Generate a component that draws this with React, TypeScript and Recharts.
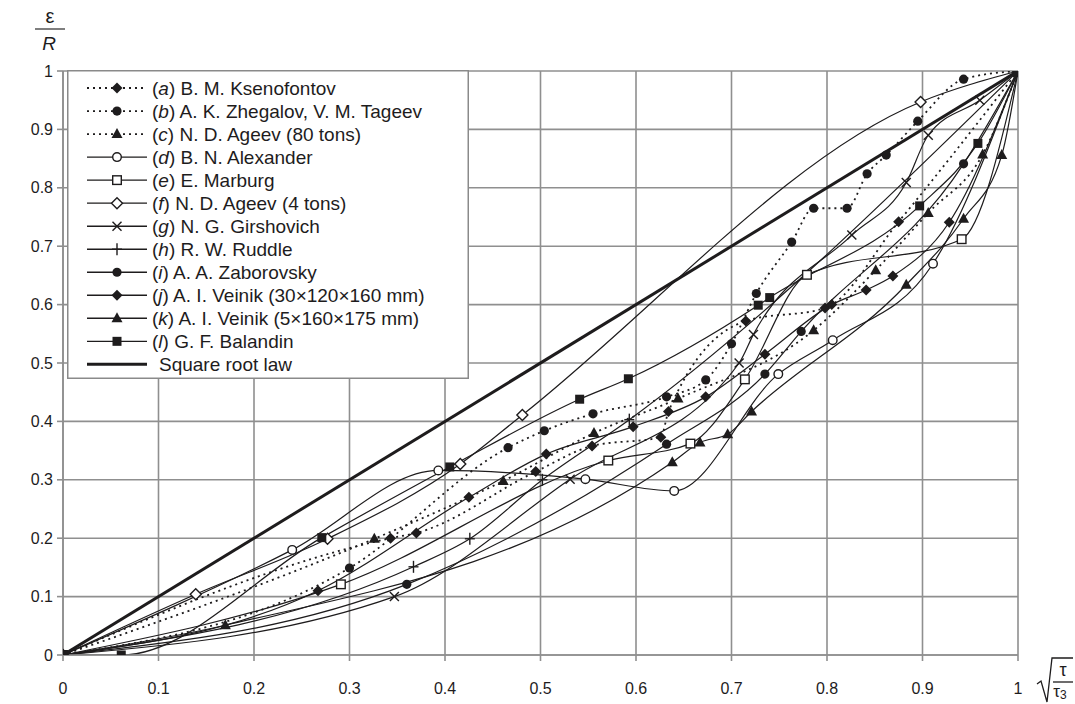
import React from "react";
import { LineChart, Line, XAxis, YAxis, CartesianGrid } from "recharts";

// ---- data (x = sqrt(tau/tau3), y = epsilon/R) ----
const xTicks = [0, 0.1, 0.2, 0.3, 0.4, 0.5, 0.6, 0.7, 0.8, 0.9, 1];
const yTicks = [0, 0.1, 0.2, 0.3, 0.4, 0.5, 0.6, 0.7, 0.8, 0.9, 1];

const ksenofontov = [[0, 0], [0.343, 0.2], [0.37, 0.209], [0.495, 0.314], [0.554, 0.358], [0.626, 0.373], [0.634, 0.417], [0.715, 0.572], [0.798, 0.594], [0.875, 0.742], [1, 1]];
const zhegalov = [[0, 0], [0.3, 0.149], [0.466, 0.355], [0.504, 0.384], [0.555, 0.413], [0.632, 0.442], [0.673, 0.471], [0.7, 0.533], [0.726, 0.619], [0.763, 0.707], [0.786, 0.765], [0.821, 0.765], [0.842, 0.824], [0.862, 0.856], [0.895, 0.914], [0.943, 0.986], [1, 1]];
const ageev80 = [[0, 0], [0.326, 0.199], [0.461, 0.298], [0.556, 0.38], [0.644, 0.439], [0.786, 0.556], [0.851, 0.659], [0.906, 0.757], [0.963, 0.857], [1, 1]];
const alexander = [[0, 0], [0.24, 0.18], [0.393, 0.316], [0.547, 0.301], [0.64, 0.281], [0.749, 0.481], [0.806, 0.539], [0.911, 0.67], [1, 1]];
const marburg = [[0, 0], [0.291, 0.121], [0.571, 0.333], [0.657, 0.362], [0.714, 0.472], [0.779, 0.651], [0.941, 0.712], [1, 1]];
const ageev4 = [[0, 0], [0.139, 0.104], [0.277, 0.199], [0.416, 0.327], [0.481, 0.411], [0.898, 0.947], [1, 1]];
const girshovich = [[0, 0], [0.347, 0.1], [0.531, 0.301], [0.708, 0.5], [0.723, 0.549], [0.826, 0.719], [0.883, 0.809], [0.906, 0.89], [0.96, 0.95], [1, 1]];
const ruddle = [[0, 0], [0.367, 0.151], [0.426, 0.199], [0.502, 0.3], [0.593, 0.403], [1, 1]];
const zaborovsky = [[0, 0], [0.36, 0.121], [0.632, 0.361], [0.735, 0.481], [0.773, 0.554], [0.943, 0.841], [1, 1]];
const veinik30 = [[0, 0], [0.267, 0.11], [0.425, 0.27], [0.506, 0.344], [0.597, 0.391], [0.673, 0.442], [0.735, 0.515], [0.805, 0.6], [0.841, 0.625], [0.869, 0.649], [0.928, 0.741], [1, 1]];
const veinik5 = [[0, 0], [0.17, 0.051], [0.638, 0.33], [0.667, 0.364], [0.696, 0.378], [0.721, 0.417], [0.883, 0.634], [0.943, 0.747], [0.983, 0.856], [1, 1]];
const balandin = [[0, 0], [0.061, 0], [0.271, 0.201], [0.405, 0.322], [0.541, 0.438], [0.592, 0.473], [0.728, 0.599], [0.74, 0.612], [0.897, 0.769], [0.958, 0.876], [1, 1]];
const squareRoot = [[0, 0], [1, 1]];

const toRows = (pts: number[][]) => pts.map(([x, y]) => ({ x, y }));

const INK = "#1e1c1d";
const FONT = "'Liberation Sans', Arial, sans-serif";

type Shape = "diamond" | "circle" | "triangle" | "square" | "openCircle" | "openSquare" | "openDiamond" | "cross" | "plus" | "none";

function Marker({ cx, cy, shape }: { cx: number; cy: number; shape: Shape }) {
  switch (shape) {
    case "diamond":
      return <polygon points={`${cx},${cy - 5.5} ${cx + 5.5},${cy} ${cx},${cy + 5.5} ${cx - 5.5},${cy}`} fill={INK} />;
    case "circle":
      return <circle cx={cx} cy={cy} r={4.6} fill={INK} />;
    case "triangle":
      return <polygon points={`${cx},${cy - 6} ${cx + 5.5},${cy + 4} ${cx - 5.5},${cy + 4}`} fill={INK} />;
    case "square":
      return <rect x={cx - 4.5} y={cy - 4.5} width={9} height={9} fill={INK} />;
    case "openCircle":
      return <circle cx={cx} cy={cy} r={4.3} fill="#fff" stroke={INK} strokeWidth={1.4} />;
    case "openSquare":
      return <rect x={cx - 4.3} y={cy - 4.3} width={8.6} height={8.6} fill="#fff" stroke={INK} strokeWidth={1.4} />;
    case "openDiamond":
      return <polygon points={`${cx},${cy - 5.5} ${cx + 5.5},${cy} ${cx},${cy + 5.5} ${cx - 5.5},${cy}`} fill="#fff" stroke={INK} strokeWidth={1.4} />;
    case "cross":
      return (
        <g stroke={INK} strokeWidth={1.4}>
          <line x1={cx - 4.5} y1={cy - 4.5} x2={cx + 4.5} y2={cy + 4.5} />
          <line x1={cx - 4.5} y1={cy + 4.5} x2={cx + 4.5} y2={cy - 4.5} />
        </g>
      );
    case "plus":
      return (
        <g stroke={INK} strokeWidth={1.4}>
          <line x1={cx} y1={cy - 6} x2={cx} y2={cy + 6} />
          <line x1={cx - 5} y1={cy} x2={cx + 5} y2={cy} />
        </g>
      );
    default:
      return <g />;
  }
}

type Series = { key: string; letter: string; label: string; data: number[][]; shape: Shape; dotted?: boolean; width?: number };

const series: Series[] = [
  { key: "a", letter: "a", label: " B. M. Ksenofontov", data: ksenofontov, shape: "diamond", dotted: true },
  { key: "b", letter: "b", label: " A. K. Zhegalov,  V. M. Tageev", data: zhegalov, shape: "circle", dotted: true },
  { key: "c", letter: "c", label: " N. D. Ageev (80 tons)", data: ageev80, shape: "triangle", dotted: true },
  { key: "d", letter: "d", label: " B. N. Alexander", data: alexander, shape: "openCircle" },
  { key: "e", letter: "e", label: " E. Marburg", data: marburg, shape: "openSquare" },
  { key: "f", letter: "f", label: " N. D. Ageev (4 tons)", data: ageev4, shape: "openDiamond" },
  { key: "g", letter: "g", label: " N. G. Girshovich", data: girshovich, shape: "cross" },
  { key: "h", letter: "h", label: " R. W. Ruddle", data: ruddle, shape: "plus" },
  { key: "i", letter: "i", label: " A. A. Zaborovsky", data: zaborovsky, shape: "circle" },
  { key: "j", letter: "j", label: " A. I. Veinik (30×120×160 mm)", data: veinik30, shape: "diamond" },
  { key: "k", letter: "k", label: " A. I. Veinik (5×160×175 mm)", data: veinik5, shape: "triangle" },
  { key: "l", letter: "l", label: " G. F. Balandin", data: balandin, shape: "square" },
  { key: "sq", letter: "", label: "Square root law", data: squareRoot, shape: "none", width: 3 },
];

function LegendBox() {
  const rowY = (i: number) => 18 + i * 23.03;
  return (
    <svg
      width={402}
      height={309}
      style={{ position: "absolute", left: 67, top: 70, background: "#fff" }}
    >
      <rect x={0.75} y={0.75} width={400.5} height={307.5} fill="#fff" stroke="#8a8a8a" strokeWidth={1.5} />
      {series.map((s, i) => {
        const y = rowY(i);
        return (
          <g key={s.key}>
            <line
              x1={20}
              x2={80}
              y1={y}
              y2={y}
              stroke={INK}
              strokeWidth={s.width ?? (s.dotted ? 1.8 : 1.4)}
              strokeDasharray={s.dotted ? "2 4" : undefined}
            />
            <Marker cx={50} cy={y} shape={s.shape} />
            {s.letter ? (
              <text x={85} y={y + 7} fontSize={19} fontFamily={FONT} fill={INK}>
                (<tspan fontStyle="italic">{s.letter}</tspan>){s.label}
              </text>
            ) : (
              <text x={92} y={y + 7} fontSize={19} fontFamily={FONT} fill={INK}>
                {s.label}
              </text>
            )}
          </g>
        );
      })}
    </svg>
  );
}

function AxisTitles() {
  return (
    <svg width={1075} height={704} style={{ position: "absolute", left: 0, top: 0, pointerEvents: "none" }}>
      <text x={50} y={23} fontSize={20} fontFamily={FONT} fill={INK} textAnchor="middle">ε</text>
      <line x1={35} x2={65} y1={29} y2={29} stroke="#555" strokeWidth={1.5} />
      <text x={49} y={50} fontSize={19} fontFamily={FONT} fill={INK} textAnchor="middle" fontStyle="italic">R</text>
      <path d="M1037,684 L1041,681 L1047,702 L1052,658 L1073,658" fill="none" stroke={INK} strokeWidth={1.3} />
      <text x={1063} y={676} fontSize={18} fontFamily={FONT} fill={INK} textAnchor="middle">τ</text>
      <line x1={1053} x2={1073} y1={682} y2={682} stroke={INK} strokeWidth={1.3} />
      <text x={1060} y={697} fontSize={17} fontFamily={FONT} fill={INK} textAnchor="middle">
        τ<tspan fontSize={12} dy={2}>3</tspan>
      </text>
    </svg>
  );
}

export default function App() {
  return (
    <div style={{ position: "absolute", left: 0, top: 0, width: 1075, height: 704, background: "#fff", overflow: "hidden" }}>
      <LineChart width={1075} height={704} margin={{ top: 71, right: 57, bottom: 19, left: 8 }}>
        <CartesianGrid stroke="#8f8f8f" strokeWidth={1.6} horizontalValues={yTicks} verticalValues={xTicks} />
        <XAxis
          type="number"
          dataKey="x"
          domain={[0, 1]}
          ticks={xTicks}
          height={30}
          tickSize={6}
          tickMargin={22}
          axisLine={{ stroke: "#8f8f8f", strokeWidth: 1.6 }}
          tickLine={{ stroke: "#8f8f8f", strokeWidth: 1.6 }}
          tick={{ fill: INK, fontSize: 16, fontFamily: FONT }}
          allowDataOverflow
        />
        <YAxis
          type="number"
          dataKey="y"
          domain={[0, 1]}
          ticks={yTicks}
          width={55}
          tickSize={6}
          tickMargin={4}
          axisLine={{ stroke: "#8f8f8f", strokeWidth: 1.6 }}
          tickLine={{ stroke: "#8f8f8f", strokeWidth: 1.6 }}
          tick={{ fill: INK, fontSize: 16, fontFamily: FONT }}
          allowDataOverflow
        />
        {series.map((s) => (
          <Line
            key={s.key}
            data={toRows(s.data)}
            dataKey="y"
            type="monotone"
            stroke={INK}
            strokeWidth={s.width ?? (s.dotted ? 1.8 : 1.2)}
            strokeDasharray={s.dotted ? "2 4" : undefined}
            isAnimationActive={false}
            dot={(p: any) => <Marker key={`${s.key}-${p.index}`} cx={p.cx} cy={p.cy} shape={s.shape} />}
            activeDot={false}
          />
        ))}
      </LineChart>
      <LegendBox />
      <AxisTitles />
    </div>
  );
}
